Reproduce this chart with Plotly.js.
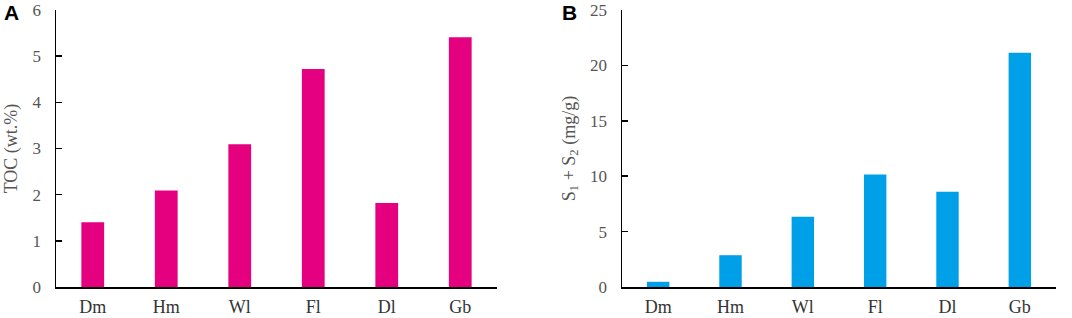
<!DOCTYPE html>
<html><head><meta charset="utf-8">
<script src="https://cdn.plot.ly/plotly-3.0.1.min.js"></script>
<style>html,body{margin:0;padding:0;background:#fff}#chart{width:1072px;height:318px}</style>
</head><body><div id="chart"></div>
<script>
const categories = ["Dm", "Hm", "Wl", "Fl", "Dl", "Gb"];
const tocValues = [1.40, 2.09, 3.09, 4.72, 1.82, 5.41];
const s1s2Values = [0.47, 2.87, 6.33, 10.15, 8.6, 21.15];
const tocTicks = [0, 1, 2, 3, 4, 5, 6];
const s1s2Ticks = [0, 5, 10, 15, 20, 25];

const serif = "Liberation Serif, Times New Roman, serif";
const tickFont = {family: serif, size: 17, color: "#555"};
const xTickFont = {family: serif, size: 18, color: "#333"};

const traces = [
  {type: "bar", x: categories, y: tocValues, xaxis: "x", yaxis: "y",
   marker: {color: "#E4007F"}, width: 0.31, hoverinfo: "x+y"},
  {type: "bar", x: categories, y: s1s2Values, xaxis: "x2", yaxis: "y2",
   marker: {color: "#00A0E9"}, width: 0.31, hoverinfo: "x+y"}
];

const xCommon = {showline: true, linecolor: "#000", linewidth: 1.5, ticks: "", showgrid: false,
  zeroline: false, tickfont: xTickFont, fixedrange: true, ticklabelstandoff: 3};
const yCommon = {showline: true, linecolor: "#000", linewidth: 1.5, ticks: "inside", ticklen: 6,
  tickwidth: 1.5, tickcolor: "#000", showgrid: false, zeroline: false, tickfont: tickFont,
  ticklabelstandoff: 10, ticklabeloverflow: "allow", fixedrange: true};

const layout = {
  width: 1072, height: 318,
  margin: {l: 0, r: 0, t: 10, b: 31},
  paper_bgcolor: "#fff", plot_bgcolor: "#fff",
  showlegend: false,
  xaxis: Object.assign({}, xCommon, {domain: [56/1072, 497/1072], anchor: "y"}),
  yaxis: Object.assign({}, yCommon, {domain: [0, 1], anchor: "x", range: [0, 6],
    tickvals: tocTicks, title: {text: "TOC (wt.%)", font: {family: serif, size: 18, color: "#555"}, standoff: 10}}),
  xaxis2: Object.assign({}, xCommon, {domain: [622/1072, 1056/1072], anchor: "y2"}),
  yaxis2: Object.assign({}, yCommon, {domain: [0, 1], anchor: "x2", range: [0, 25],
    tickvals: s1s2Ticks, title: {text: "S<sub>1</sub> + S<sub>2</sub> (mg/g)", font: {family: serif, size: 18, color: "#555"}, standoff: 10}}),
  annotations: [
    {text: "<b>A</b>", xref: "paper", yref: "paper", x: 2/1072, y: 1, xanchor: "left", yanchor: "middle",
     yshift: -2, showarrow: false, font: {family: "Liberation Sans, Arial, sans-serif", size: 21, color: "#000"}},
    {text: "<b>B</b>", xref: "paper", yref: "paper", x: 560/1072, y: 1, xanchor: "left", yanchor: "middle",
     yshift: -2, showarrow: false, font: {family: "Liberation Sans, Arial, sans-serif", size: 21, color: "#000"}}
  ]
};

Plotly.newPlot("chart", traces, layout, {displayModeBar: false, staticPlot: true});
</script></body></html>
